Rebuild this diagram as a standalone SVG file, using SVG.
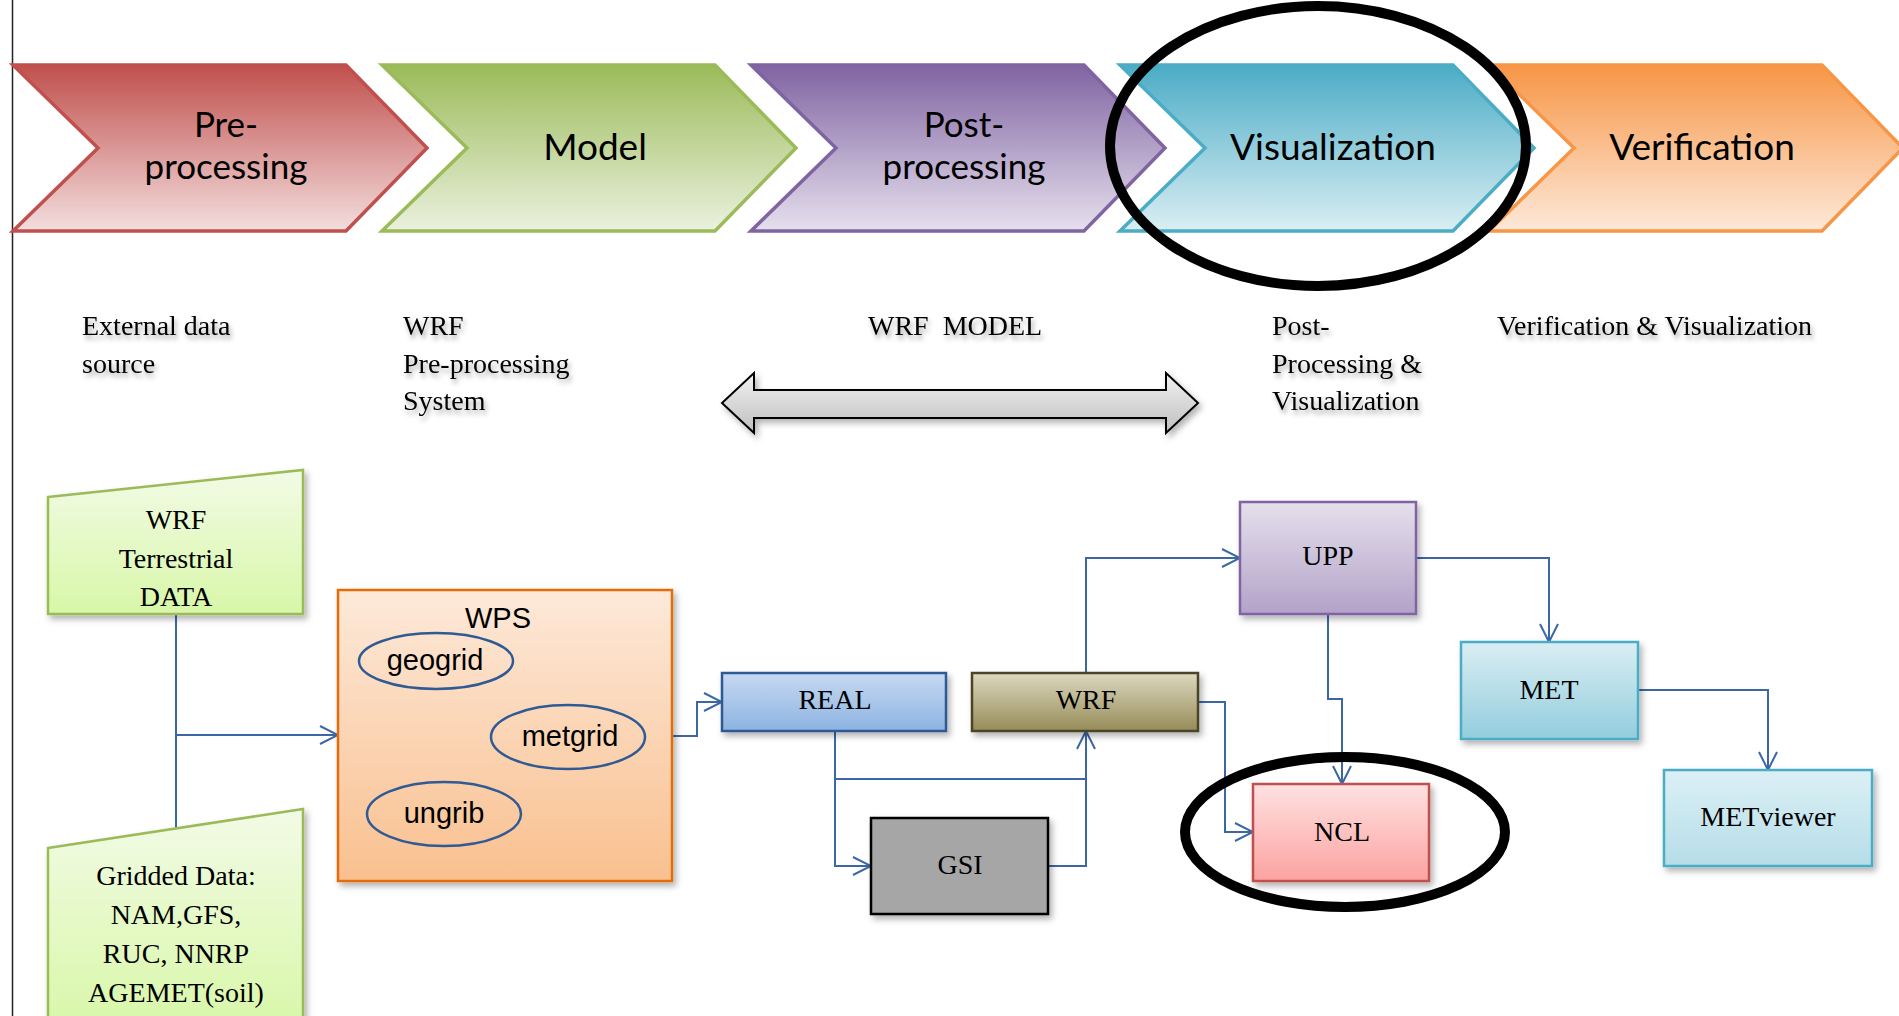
<svg xmlns="http://www.w3.org/2000/svg" width="1899" height="1016" viewBox="0 0 1899 1016">
<defs>
<linearGradient id="gRed" x1="0" y1="0" x2="0" y2="1"><stop offset="0" stop-color="#c0504d"/><stop offset="1" stop-color="#f3dede"/></linearGradient>
<linearGradient id="gGreen" x1="0" y1="0" x2="0" y2="1"><stop offset="0" stop-color="#9bbb59"/><stop offset="1" stop-color="#ebf1df"/></linearGradient>
<linearGradient id="gPurple" x1="0" y1="0" x2="0" y2="1"><stop offset="0" stop-color="#8064a2"/><stop offset="1" stop-color="#e6e0ed"/></linearGradient>
<linearGradient id="gAqua" x1="0" y1="0" x2="0" y2="1"><stop offset="0" stop-color="#4bacc6"/><stop offset="1" stop-color="#daeef3"/></linearGradient>
<linearGradient id="gOrange" x1="0" y1="0" x2="0" y2="1"><stop offset="0" stop-color="#f79646"/><stop offset="1" stop-color="#fde9d9"/></linearGradient>
<linearGradient id="gArrow" x1="0" y1="0" x2="0" y2="1"><stop offset="0" stop-color="#f2f2f2"/><stop offset="1" stop-color="#bfbfbf"/></linearGradient>
<linearGradient id="gInput" x1="0" y1="0" x2="0" y2="1"><stop offset="0" stop-color="#f2fbe6"/><stop offset="1" stop-color="#d8f7a8"/></linearGradient>
<linearGradient id="gWps" x1="0" y1="0" x2="0" y2="1"><stop offset="0" stop-color="#fde9d9"/><stop offset="1" stop-color="#f9c08f"/></linearGradient>
<linearGradient id="gReal" x1="0" y1="0" x2="0" y2="1"><stop offset="0" stop-color="#c6d9f1"/><stop offset="1" stop-color="#8db3e2"/></linearGradient>
<linearGradient id="gWrf" x1="0" y1="0" x2="0" y2="1"><stop offset="0" stop-color="#ddd8c0"/><stop offset="1" stop-color="#968c58"/></linearGradient>
<linearGradient id="gUpp" x1="0" y1="0" x2="0" y2="1"><stop offset="0" stop-color="#e5e0ec"/><stop offset="1" stop-color="#b3a2c8"/></linearGradient>
<linearGradient id="gNcl" x1="0" y1="0" x2="0" y2="1"><stop offset="0" stop-color="#ffe1e1"/><stop offset="1" stop-color="#fba3a1"/></linearGradient>
<linearGradient id="gMet" x1="0" y1="0" x2="0" y2="1"><stop offset="0" stop-color="#daeef3"/><stop offset="1" stop-color="#93cddd"/></linearGradient>
<linearGradient id="gMetv" x1="0" y1="0" x2="0" y2="1"><stop offset="0" stop-color="#dcf0f5"/><stop offset="1" stop-color="#b6dde8"/></linearGradient>
<filter id="sh" x="-10%" y="-10%" width="130%" height="130%"><feDropShadow dx="3" dy="4" stdDeviation="3" flood-color="#000" flood-opacity="0.3"/></filter>
<filter id="tsh" x="-10%" y="-20%" width="130%" height="160%"><feDropShadow dx="2" dy="4" stdDeviation="2.5" flood-color="#000" flood-opacity="0.35"/></filter>
<marker id="arr" viewBox="0 0 20 20" refX="19" refY="10" markerWidth="20" markerHeight="20" markerUnits="userSpaceOnUse" orient="auto"><path d="M1,1 L19,10 L1,19" fill="none" stroke="#3c67a6" stroke-width="2"/></marker>
<style>
.chev{stroke-width:3.5}
.ct{font-family:Lato,"Open Sans",sans-serif;font-size:37px;fill:#000;text-anchor:middle}
.ct2{font-family:Lato,"Open Sans",sans-serif;font-size:35px;fill:#000;text-anchor:middle}
.dt{font-family:"Liberation Serif",serif;font-size:28px;fill:#000;filter:url(#tsh)}
.bt{font-family:"Liberation Serif",serif;font-size:28px;fill:#000;text-anchor:middle}
.st{font-family:"Liberation Sans",sans-serif;font-size:29px;fill:#000;text-anchor:middle}
.con{fill:none;stroke:#3c67a6;stroke-width:2}
.oval{fill:none;stroke:#2f5a94;stroke-width:2.5}
.ring{fill:none;stroke:#000;stroke-width:10}
</style>
</defs>
<rect width="1899" height="1016" fill="#fff"/>
<line x1="12.5" y1="0" x2="12.5" y2="1016" stroke="#222" stroke-width="1.5"/>

<g id="chevrons">
<g id="chev-pre"><path class="chev" d="M13,65 L346,65 L427,148 L346,231 L13,231 L98,148 Z" fill="url(#gRed)" stroke="#c0504d"/>
<text class="ct2" x="226" y="137">Pre-</text><text class="ct2" x="226" y="179">processing</text></g>
<g id="chev-model"><path class="chev" d="M382,65 L715,65 L796,148 L715,231 L382,231 L467,148 Z" fill="url(#gGreen)" stroke="#9bbb59"/>
<text class="ct" x="595" y="160">Model</text></g>
<g id="chev-post"><path class="chev" d="M751,65 L1084,65 L1165,148 L1084,231 L751,231 L836,148 Z" fill="url(#gPurple)" stroke="#8064a2"/>
<text class="ct2" x="964" y="137">Post-</text><text class="ct2" x="964" y="179">processing</text></g>
<g id="chev-vis"><path class="chev" d="M1120,65 L1453,65 L1534,148 L1453,231 L1120,231 L1205,148 Z" fill="url(#gAqua)" stroke="#4bacc6"/>
<text class="ct" x="1333" y="160">Visualization</text></g>
<g id="chev-ver"><path class="chev" d="M1489,65 L1822,65 L1903,148 L1822,231 L1489,231 L1574,148 Z" fill="url(#gOrange)" stroke="#f79646"/>
<text class="ct" x="1702" y="160">Verification</text></g>
</g>

<g id="descriptions">
<text class="dt" x="82" y="335">External data</text>
<text class="dt" x="82" y="373">source</text>
<text class="dt" x="403" y="335">WRF</text>
<text class="dt" x="403" y="373">Pre-processing</text>
<text class="dt" x="403" y="410">System</text>
<text class="dt" x="868" y="335" xml:space="preserve">WRF  MODEL</text>
<text class="dt" x="1272" y="335">Post-</text>
<text class="dt" x="1272" y="373">Processing &amp;</text>
<text class="dt" x="1272" y="410">Visualization</text>
<text class="dt" x="1497" y="335">Verification &amp; Visualization</text>
</g>

<g id="double-arrow">
<path d="M722,403 L754,373 L754,390 L1166,390 L1166,373 L1198,403 L1166,433 L1166,418 L754,418 L754,433 Z" fill="url(#gArrow)" stroke="#000" stroke-width="2" stroke-linejoin="miter" filter="url(#sh)"/>
</g>

<g id="connectors">
<path class="con" d="M176,614 V828"/>
<path class="con" d="M176,735 H338" marker-end="url(#arr)"/>
<path class="con" d="M513,661 H568 V705" marker-end="url(#arr)"/>
<path class="con" d="M521,814 H568 V770" marker-end="url(#arr)"/>
<path class="con" d="M672,736 H697 V702 H722" marker-end="url(#arr)"/>
<path class="con" d="M1086,673 V558 H1240" marker-end="url(#arr)"/>
<path class="con" d="M835,731 V866 H871" marker-end="url(#arr)"/>
<path class="con" d="M835,779 H1086 V731" marker-end="url(#arr)"/>
<path class="con" d="M1048,866 H1086 V779"/>
<path class="con" d="M1328,614 V699 H1342 V784" marker-end="url(#arr)"/>
<path class="con" d="M1198,702 H1225 V832 H1253" marker-end="url(#arr)"/>
<path class="con" d="M1416,558 H1549 V642" marker-end="url(#arr)"/>
<path class="con" d="M1638,690 H1768 V770" marker-end="url(#arr)"/>
</g>

<g id="terrestrial">
<path d="M48,497 L303,470 L303,614 L48,614 Z" fill="url(#gInput)" stroke="#9bbb59" stroke-width="2.5" filter="url(#sh)"/>
<text class="bt" x="176" y="529">WRF</text>
<text class="bt" x="176" y="568">Terrestrial</text>
<text class="bt" x="176" y="606">DATA</text>
</g>

<g id="gridded">
<path d="M48,848 L303,809 L303,1030 L48,1030 Z" fill="url(#gInput)" stroke="#9bbb59" stroke-width="2.5" filter="url(#sh)"/>
<text class="bt" x="176" y="885">Gridded Data:</text>
<text class="bt" x="176" y="924">NAM,GFS,</text>
<text class="bt" x="176" y="963">RUC, NNRP</text>
<text class="bt" x="176" y="1002">AGEMET(soil)</text>
</g>

<g id="wps">
<rect x="338" y="590" width="334" height="291" fill="url(#gWps)" stroke="#e46c0a" stroke-width="2.5" filter="url(#sh)"/>
<text class="st" x="498" y="628">WPS</text>
<g id="geogrid"><ellipse class="oval" cx="436" cy="661" rx="77" ry="28"/><text class="st" x="435" y="670">geogrid</text></g>
<g id="metgrid"><ellipse class="oval" cx="568" cy="737" rx="77" ry="32"/><text class="st" x="570" y="746">metgrid</text></g>
<g id="ungrib"><ellipse class="oval" cx="444" cy="814" rx="77" ry="32"/><text class="st" x="444" y="823">ungrib</text></g>
</g>

<g id="real"><rect x="722" y="673" width="224" height="58" fill="url(#gReal)" stroke="#2f5a94" stroke-width="2.5" filter="url(#sh)"/><text class="bt" x="835" y="709">REAL</text></g>
<g id="wrf"><rect x="972" y="673" width="226" height="58" fill="url(#gWrf)" stroke="#4a4528" stroke-width="2.5" filter="url(#sh)"/><text class="bt" x="1086" y="709">WRF</text></g>
<g id="gsi"><rect x="871" y="818" width="177" height="96" fill="#a6a6a6" stroke="#000" stroke-width="2.5" filter="url(#sh)"/><text class="bt" x="960" y="874">GSI</text></g>
<g id="upp"><rect x="1240" y="502" width="176" height="112" fill="url(#gUpp)" stroke="#8064a2" stroke-width="2.5" filter="url(#sh)"/><text class="bt" x="1328" y="565">UPP</text></g>
<g id="ncl"><rect x="1253" y="784" width="176" height="97" fill="url(#gNcl)" stroke="#c0504d" stroke-width="2.5" filter="url(#sh)"/><text class="bt" x="1342" y="841">NCL</text></g>
<g id="met"><rect x="1461" y="642" width="177" height="97" fill="url(#gMet)" stroke="#4bacc6" stroke-width="2.5" filter="url(#sh)"/><text class="bt" x="1549" y="699">MET</text></g>
<g id="metviewer"><rect x="1664" y="770" width="208" height="96" fill="url(#gMetv)" stroke="#4bacc6" stroke-width="2.5" filter="url(#sh)"/><text class="bt" x="1768" y="826">METviewer</text></g>

<g id="highlights">
<ellipse class="ring" cx="1318" cy="146" rx="208" ry="140"/>
<ellipse class="ring" cx="1345" cy="832" rx="160" ry="75"/>
</g>
</svg>
